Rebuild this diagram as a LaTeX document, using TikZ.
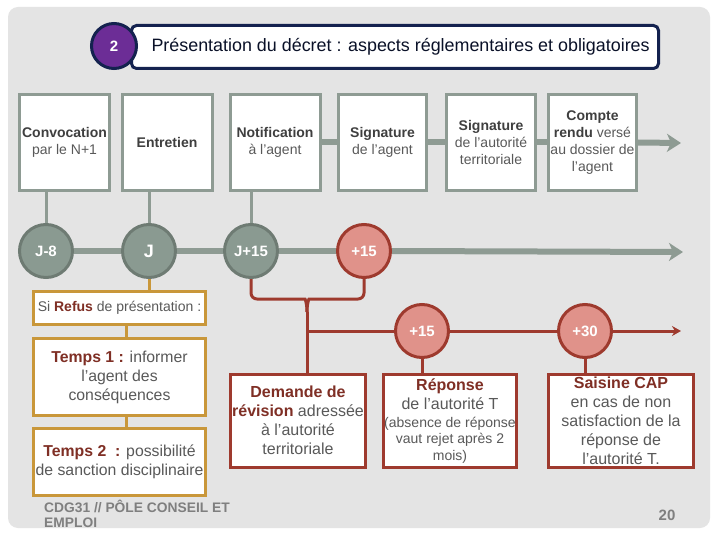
\documentclass[tikz,border=0pt]{standalone}
\usepackage{fontspec}
\setmainfont{Liberation Sans}
\usetikzlibrary{arrows.meta}
\definecolor{bg}{HTML}{E4E4E4}
\definecolor{sage}{HTML}{8E9B93}
\definecolor{sagedark}{HTML}{6E7B73}
\definecolor{sagefill}{HTML}{8A9A91}
\definecolor{rouge}{HTML}{9E3A2E}
\definecolor{saumon}{HTML}{E0928A}
\definecolor{gold}{HTML}{C9973A}
\definecolor{txtred}{HTML}{7F2F25}
\definecolor{txtgrey}{HTML}{595959}
\definecolor{txtdark}{HTML}{3F3F3F}
\definecolor{navy}{HTML}{14224F}
\definecolor{violet}{HTML}{6C2D96}
\definecolor{foot}{HTML}{7F7F7F}
\pgfdeclarelayer{bottom}
\pgfdeclarelayer{lines}
\pgfsetlayers{bottom,lines,main}
\tikzset{
  greybox/.style={draw=sage, line width=3pt, fill=white, minimum width=90pt, minimum height=96pt, align=center, inner sep=1pt, text=txtgrey, font=\fontsize{14}{17}\selectfont},
  greycirc/.style={circle, draw=sagedark, line width=3pt, fill=sagefill, minimum size=53pt, inner sep=0pt, text=white, font=\fontsize{15}{16}\selectfont\bfseries},
  redcirc/.style={circle, draw=rouge, line width=3pt, fill=saumon, minimum size=53pt, inner sep=0pt, text=white, font=\fontsize{15}{16}\selectfont\bfseries},
  goldbox/.style={draw=gold, line width=3pt, fill=white, minimum width=172pt, align=center, inner sep=1pt, text=txtgrey, font=\fontsize{15.8}{19}\selectfont},
  redbox/.style={draw=rouge, line width=3pt, fill=white, minimum height=93pt, align=center, inner sep=1pt, text=txtgrey, font=\fontsize{16}{19}\selectfont},
  greyline/.style={draw=sage, line width=6pt},
  redline/.style={draw=rouge, line width=3pt},
  goldline/.style={draw=gold, line width=3pt},
}
\newcommand{\bdk}[1]{{\bfseries\color{txtdark}#1}}
\newcommand{\brd}[1]{{\bfseries\color{txtred}#1}}
\newcommand{\smalltxt}{\fontsize{14}{16.5}\selectfont}
\begin{document}
\begin{tikzpicture}[x=1pt,y=-1pt]
\useasboundingbox (0,0) rectangle (720,540);
\begin{pgfonlayer}{bottom}
\fill[white] (0,0) rectangle (720,540);
\fill[bg, rounded corners=10pt] (8,7) rectangle (710,528);
\end{pgfonlayer}

% title
\node[draw=navy, line width=3pt, fill=white, rounded corners=5pt, minimum width=527pt, minimum height=43pt, inner sep=0pt] (titlebox) at (395,47) {};
\node[text=navy!50!black, font=\fontsize{17.9}{19}\selectfont, anchor=west] (titletext) at (148,47) {Présentation du décret : aspects réglementaires et obligatoires};
\node[circle, draw=navy, line width=3pt, fill=violet, minimum size=45pt, inner sep=0pt, text=white, font=\fontsize{15}{16}\selectfont\bfseries] (num) at (114,46) {2};

% top boxes
\node[greybox] (b1) at (64.5,142.5) {\bdk{Convocation}\\par le N+1};
\node[greybox] (b2) at (167,142.5) {\bdk{Entretien}};
\node[greybox] (b3) at (275,142.5) {\bdk{Notification}\\à l'agent};
\node[greybox, minimum width=88pt] (b4) at (382.5,142.5) {\bdk{Signature}\\de l'agent};
\node[greybox, minimum width=89pt] (b5) at (491,142.5) {\bdk{Signature}\\de l'autorité\\territoriale};
\node[greybox, minimum width=88pt] (b6) at (592.5,142.5) {\bdk{Compte}\\\bdk{rendu} versé\\au dossier de\\l'agent};
\coordinate (topend) at (681,143);

% timeline circles
\node[greycirc] (c1) at (46,251) {J-8};
\node[greycirc, font=\fontsize{18}{20}\selectfont\bfseries] (c2) at (149,251) {J};
\node[greycirc] (c3) at (251,251) {J+15};
\node[redcirc] (c4) at (364,251) {+15};
\coordinate (tlend) at (683,252);

% gold branch
\node[goldbox, minimum height=33pt, font=\fontsize{14}{16}\selectfont] (g1) at (119.5,307.5) {Si \brd{Refus} de présentation :};
\node[goldbox, minimum height=77pt] (g2) at (119.5,377) {\brd{Temps 1 :} informer\\l'agent des\\conséquences};
\node[goldbox, minimum height=67pt] (g3) at (119.5,462) {\brd{Temps 2\ \ :} possibilité\\de sanction disciplinaire};

% red branch
\node[redcirc] (c5) at (422,331) {+15};
\node[redcirc] (c6) at (585,331) {+30};
\node[redbox, minimum width=135pt] (r1) at (298,420.5) {\brd{Demande de}\\\brd{révision} adressée\\à l'autorité\\territoriale};
\node[redbox, minimum width=133pt] (r2) at (450,421) {\brd{Réponse}\\de l'autorité T\\[-1pt]{\smalltxt(absence de réponse}\\[-2.5pt]{\smalltxt vaut rejet après 2}\\[-2pt]{\smalltxt mois)}};
\node[redbox, minimum width=145pt] (r3) at (621,421) {\brd{Saisine CAP}\\en cas de non\\satisfaction de la\\réponse de\\l'autorité T.};
\coordinate (tip) at (307,312);
\coordinate (fork) at (307,331);
\coordinate (redend) at (681,331);

\begin{pgfonlayer}{lines}
\path[greyline] (b3.east) -- (b4.west);
\path[greyline] (b4.east) -- (b5.west);
\path[greyline] (b5.east) -- (b6.west);
\draw[greyline, -{Stealth[length=14pt,width=18pt,inset=4pt]}] (b6.east) -- (topend);
\path[greyline] (c1) -- (c2);
\path[greyline] (c2) -- (c3);
\path[greyline] (c3) -- (c4);
\draw[greyline, -{Stealth[length=14pt,width=18pt,inset=4pt]}] (c4.east) -- (tlend);
\path[draw=sage, line width=3pt] (c1.north) -- (c1.north |- b1.south);
\path[draw=sage, line width=3pt] (c2.north) -- (c2.north |- b2.south);
\path[draw=sage, line width=3pt] (c3.north) -- (c3.north |- b3.south);
\draw[goldline] (c2.south) -- (c2.south |- g1.north);
\draw[goldline] (g1.south -| 126,0) -- (g2.north -| 126,0);
\draw[goldline] (g2.south -| 126,0) -- (g3.north -| 126,0);
\draw[redline, rounded corners=6pt] (c3.south) |- (299,299) .. controls (305,299) and (307,303) .. (tip);
\draw[redline, rounded corners=6pt] (c4.south) |- (315,299) .. controls (309,299) and (307,303) .. (tip);
\draw[redline] (tip) -- (tip |- r1.north);
\draw[redline] (fork) -- (c5.west);
\draw[redline] (c5.east) -- (c6.west);
\draw[redline, -{Stealth[length=9pt,width=10pt]}] (c6.east) -- (redend);
\draw[redline] (c5.south) -- (c5.south |- r2.north);
\draw[redline] (c6.south) -- (c6.south |- r3.north);
\end{pgfonlayer}

% footer
\node[anchor=north west, align=left, text=foot, font=\fontsize{13.8}{15}\selectfont\bfseries, inner sep=0pt] (footer) at (44,500) {CDG31 // PÔLE CONSEIL ET\\EMPLOI};
\node[text=foot, font=\fontsize{15}{16}\selectfont\bfseries] (page) at (667,515) {20};
\end{tikzpicture}
\end{document}
